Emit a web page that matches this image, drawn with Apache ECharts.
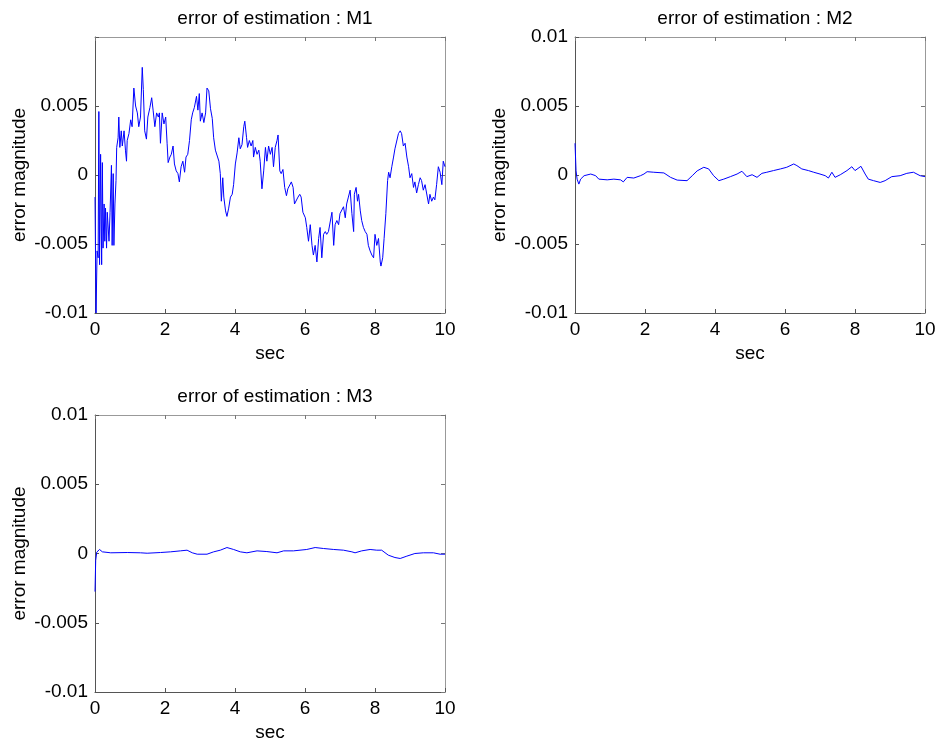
<!DOCTYPE html>
<html>
<head>
<meta charset="utf-8">
<script src="https://cdn.jsdelivr.net/npm/echarts@6/dist/echarts.min.js"></script>
<style>
  html, body { margin: 0; padding: 0; background: #fff; }
  #chart { width: 939px; height: 747px; }
</style>
</head>
<body>
<div id="chart"></div>
<script>
// Estimation error traces (seconds, error magnitude)
const m1Time = [0.00,0.03,0.06,0.09,0.11,0.13,0.16,0.19,0.21,0.23,0.26,0.28,0.30,0.33,0.35,0.40,0.43,0.47,0.49,0.52,0.54,0.57,0.60,0.62,0.66,0.68,0.71,0.75,0.78,0.83,0.87,0.90,0.92,0.97,1.02,1.06,1.11,1.16,1.21,1.25,1.30,1.35,1.38,1.42,1.47,1.51,1.57,1.62,1.66,1.71,1.76,1.81,1.84,1.87,1.92,1.97,2.02,2.06,2.09,2.14,2.18,2.23,2.27,2.32,2.37,2.41,2.46,2.51,2.56,2.60,2.65,2.70,2.75,2.79,2.84,2.90,2.94,2.98,3.01,3.06,3.11,3.16,3.20,3.25,3.30,3.35,3.39,3.44,3.49,3.54,3.58,3.61,3.65,3.68,3.73,3.77,3.82,3.87,3.92,3.96,4.01,4.06,4.11,4.15,4.20,4.25,4.28,4.33,4.36,4.41,4.46,4.51,4.53,4.58,4.63,4.68,4.72,4.77,4.82,4.87,4.91,4.96,5.01,5.06,5.10,5.15,5.20,5.23,5.28,5.32,5.37,5.42,5.47,5.51,5.56,5.61,5.66,5.70,5.75,5.80,5.85,5.89,5.94,6.01,6.05,6.10,6.15,6.20,6.24,6.29,6.34,6.39,6.43,6.48,6.53,6.58,6.62,6.67,6.72,6.77,6.82,6.86,6.91,6.96,7.00,7.05,7.10,7.15,7.19,7.24,7.29,7.34,7.39,7.41,7.46,7.50,7.53,7.58,7.62,7.67,7.72,7.77,7.81,7.86,7.91,7.96,8.00,8.05,8.10,8.15,8.17,8.22,8.26,8.31,8.36,8.39,8.43,8.48,8.53,8.57,8.62,8.67,8.72,8.76,8.81,8.86,8.91,8.96,9.00,9.05,9.10,9.14,9.19,9.24,9.29,9.33,9.38,9.43,9.48,9.53,9.57,9.62,9.67,9.71,9.76,9.81,9.86,9.91,9.95,10.00];
const m1Error = [-0.0016,-0.0100,-0.0055,-0.0060,0.0046,-0.0065,0.0015,-0.0065,0.0009,-0.0053,-0.0021,-0.0048,-0.0024,-0.0053,-0.0027,-0.0048,-0.0027,0.0007,-0.0051,0.0001,-0.0051,-0.0021,-0.0004,0.0020,0.0027,0.0042,0.0020,0.0032,0.0021,0.0032,0.0018,0.0010,0.0025,0.0030,0.0040,0.0035,0.0063,0.0050,0.0045,0.0035,0.0042,0.0078,0.0062,0.0032,0.0026,0.0042,0.0049,0.0056,0.0047,0.0035,0.0045,0.0042,0.0045,0.0023,0.0045,0.0037,0.0042,0.0023,0.0009,0.0013,0.0015,0.0021,0.0008,0.0003,0.0001,-0.0005,0.0006,0.0010,0.0002,0.0013,0.0015,0.0025,0.0040,0.0045,0.0049,0.0057,0.0047,0.0059,0.0039,0.0045,0.0038,0.0045,0.0063,0.0061,0.0048,0.0041,0.0027,0.0018,0.0019,0.0010,0.0001,-0.0019,-0.0002,-0.0016,-0.0026,-0.0030,-0.0024,-0.0016,-0.0014,-0.0007,0.0008,0.0016,0.0027,0.0019,0.0022,0.0035,0.0039,0.0027,0.0020,0.0025,0.0021,0.0025,0.0013,0.0020,0.0015,0.0018,0.0010,-0.0010,0.0003,0.0020,0.0010,0.0021,0.0015,0.0020,0.0006,0.0020,0.0025,0.0029,0.0003,0.0001,0.0004,-0.0009,-0.0015,-0.0010,-0.0011,-0.0005,-0.0009,-0.0021,-0.0020,-0.0016,-0.0014,-0.0016,-0.0027,-0.0031,-0.0038,-0.0048,-0.0036,-0.0051,-0.0058,-0.0051,-0.0063,-0.0046,-0.0038,-0.0060,-0.0043,-0.0041,-0.0043,-0.0041,-0.0042,-0.0027,-0.0051,-0.0036,-0.0033,-0.0036,-0.0028,-0.0027,-0.0023,-0.0031,-0.0021,-0.0016,-0.0011,-0.0028,-0.0041,-0.0014,-0.0009,-0.0019,-0.0014,-0.0026,-0.0033,-0.0038,-0.0041,-0.0043,-0.0051,-0.0055,-0.0058,-0.0060,-0.0043,-0.0051,-0.0046,-0.0063,-0.0066,-0.0060,-0.0046,-0.0028,-0.0004,0.0002,-0.0002,0.0006,0.0013,0.0019,0.0018,0.0030,0.0032,0.0030,0.0021,0.0023,0.0013,0.0006,-0.0002,0.0001,-0.0009,-0.0005,-0.0013,-0.0007,-0.0002,-0.0004,-0.0011,-0.0007,-0.0008,-0.0021,-0.0014,-0.0019,-0.0016,-0.0018,-0.0007,0.0006,0.0002,-0.0007,0.0010,0.0006];

const m2Time = [0.00,0.03,0.06,0.11,0.16,0.26,0.45,0.59,0.68,0.92,1.11,1.30,1.38,1.49,1.68,1.87,1.97,2.06,2.25,2.54,2.73,2.92,3.20,3.35,3.49,3.68,3.82,3.96,4.11,4.25,4.44,4.63,4.77,4.91,5.06,5.20,5.34,5.48,5.67,5.87,6.05,6.25,6.34,6.48,6.67,6.82,7.00,7.15,7.24,7.34,7.43,7.58,7.77,7.91,8.00,8.17,8.29,8.38,8.53,8.72,8.86,9.05,9.29,9.48,9.67,9.86,10.00];
const m2Error = [0.0023,0.0003,-0.0003,-0.00066,-0.0003,-0.00005,0.00007,-0.00005,-0.0003,-0.00035,-0.0003,-0.00035,-0.0005,-0.00017,-0.00022,-0.00005,0.00007,0.00024,0.0002,0.00015,-0.00017,-0.00037,-0.00041,-0.00005,0.0003,0.00056,0.00044,-0.00005,-0.00041,-0.0003,-0.00012,0.00007,0.00027,-0.00012,0.00002,-0.00017,0.00012,0.0002,0.00032,0.00044,0.00056,0.0008,0.00068,0.00044,0.00032,0.0002,0.00007,-0.00005,-0.00022,0.0002,-0.00017,0.00002,0.00032,0.0006,0.00032,0.00063,0.00007,-0.0003,-0.00041,-0.00054,-0.00041,-0.00012,-0.00005,0.00012,0.0002,-0.00005,-0.00012];

const m3Time = [0.00,0.02,0.05,0.09,0.13,0.21,0.45,0.92,1.30,1.49,1.87,2.16,2.44,2.63,2.78,2.92,3.20,3.39,3.58,3.77,3.96,4.15,4.34,4.63,4.91,5.20,5.39,5.67,6.05,6.29,6.53,6.82,7.10,7.34,7.43,7.62,7.86,8.05,8.19,8.38,8.57,8.72,8.91,9.14,9.38,9.67,9.86,10.00];
const m3Error = [-0.00275,-0.0005,0.0001,0.00024,0.00029,0.00012,0.00005,0.00007,0.00005,0.00002,0.00007,0.00012,0.00019,0.00024,0.00005,-0.00005,-0.00005,0.00012,0.00024,0.00043,0.00029,0.00012,0.00005,0.00019,0.00014,0.00005,0.00019,0.00019,0.00029,0.00043,0.00036,0.00029,0.00024,0.00012,0.00005,0.00019,0.00029,0.00024,0.00024,-0.00012,-0.00029,-0.00036,-0.00019,0.0,0.00005,0.00005,-0.00005,-0.00005];

const panelTitles = ['error of estimation : M1', 'error of estimation : M2', 'error of estimation : M3'];
const xTicks = { min: 0, max: 10, step: 2 };
const yTicks = { min: -0.01, max: 0.01, step: 0.005 };
const xName = 'sec';
const yName = 'error magnitude';

const FONT = '"Liberation Sans", Arial, Helvetica, sans-serif';
const FS = 19;
const grids = [
  { left: 95, top: 37, width: 350, height: 276 },
  { left: 575, top: 37, width: 350, height: 276 },
  { left: 95, top: 415, width: 350, height: 277 }
];
const traces = [[m1Time, m1Error], [m2Time, m2Error], [m3Time, m3Error]];
// the first panel's y-limit stops just short of 0.01, so its top label is not drawn
const hideTopLabel = [true, false, false];

const fmtY = v => {
  const r = Math.round(v * 1000) / 1000;
  if (Math.abs(r) < 1e-9) return '0';
  return String(r);
};

const xAxes = [], yAxes = [], series = [], titles = [];
grids.forEach((g, i) => {
  titles.push({
    text: panelTitles[i],
    left: g.left + g.width / 2,
    top: g.top - 33,
    textAlign: 'center',
    textStyle: { fontFamily: FONT, fontSize: FS, fontWeight: 'normal', color: '#000' }
  });
  const tickStyle = { show: true, inside: true, length: 4, lineStyle: { color: '#555', width: 1 } };
  xAxes.push({
    gridIndex: i, type: 'value', position: 'bottom',
    min: xTicks.min, max: xTicks.max, interval: xTicks.step,
    name: xName, nameLocation: 'middle', nameGap: 31,
    nameTextStyle: { fontFamily: FONT, fontSize: FS, color: '#000' },
    axisLine: { show: true, onZero: false, lineStyle: { color: '#555', width: 1 } },
    axisTick: tickStyle,
    axisLabel: { fontFamily: FONT, fontSize: FS, color: '#000', margin: 7 },
    splitLine: { show: false }
  });
  xAxes.push({
    gridIndex: i, type: 'value', position: 'top',
    min: xTicks.min, max: xTicks.max, interval: xTicks.step,
    axisLine: { show: true, onZero: false, lineStyle: { color: '#999', width: 1 } },
    axisTick: { show: true, inside: true, length: 4, lineStyle: { color: '#777' } },
    axisLabel: { show: false }, splitLine: { show: false }
  });
  yAxes.push({
    gridIndex: i, type: 'value', position: 'left',
    min: yTicks.min, max: yTicks.max, interval: yTicks.step,
    name: yName, nameLocation: 'middle', nameGap: 66, nameRotate: 90,
    nameTextStyle: { fontFamily: FONT, fontSize: FS, color: '#000' },
    axisLine: { show: true, onZero: false, lineStyle: { color: '#555', width: 1 } },
    axisTick: tickStyle,
    axisLabel: {
      fontFamily: FONT, fontSize: FS, color: '#000', margin: 7,
      formatter: v => (hideTopLabel[i] && v >= yTicks.max - 1e-9) ? '' : fmtY(v)
    },
    splitLine: { show: false }
  });
  yAxes.push({
    gridIndex: i, type: 'value', position: 'right',
    min: yTicks.min, max: yTicks.max, interval: yTicks.step,
    axisLine: { show: true, onZero: false, lineStyle: { color: '#999', width: 1 } },
    axisTick: { show: true, inside: true, length: 4, lineStyle: { color: '#777' } },
    axisLabel: { show: false }, splitLine: { show: false }
  });
  const [t, v] = traces[i];
  series.push({
    type: 'line',
    xAxisIndex: i * 2, yAxisIndex: i * 2,
    data: t.map((x, k) => [x, v[k]]),
    showSymbol: false, symbol: 'none',
    lineStyle: { color: '#0000ff', width: 1 },
    clip: true, silent: true
  });
});

const chart = echarts.init(document.getElementById('chart'), null, { renderer: 'canvas' });
chart.setOption({
  backgroundColor: '#fff',
  animation: false,
  title: titles,
  grid: grids,
  xAxis: xAxes,
  yAxis: yAxes,
  series: series
});
</script>
</body>
</html>
